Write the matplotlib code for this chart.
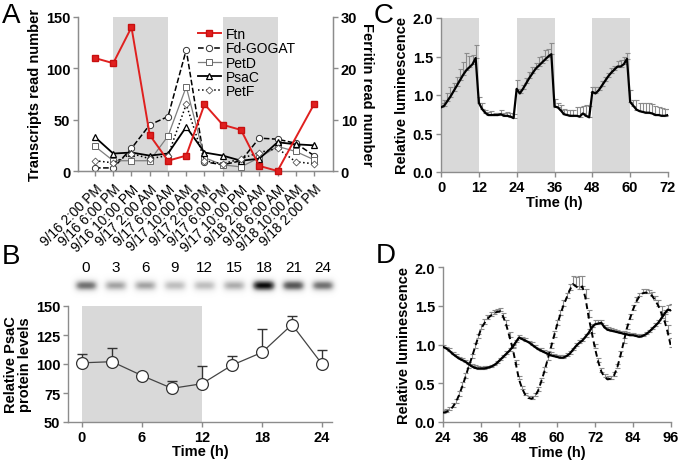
import numpy as np
import matplotlib.pyplot as plt

plt.rcParams['font.family'] = ['Liberation Sans', 'DejaVu Sans']

# ---- panel A: transcript read numbers ----
time_labels = ["9/16 2:00 PM", "9/16 6:00 PM", "9/16 10:00 PM", "9/17 2:00 AM",
               "9/17 6:00 AM", "9/17 10:00 AM", "9/17 2:00 PM", "9/17 6:00 PM",
               "9/17 10:00 PM", "9/18 2:00 AM", "9/18 6:00 AM", "9/18 10:00 AM",
               "9/18 2:00 PM"]
ftn = [22, 21, 28, 7, 2, 3, 13, 9, 8, 1, 0, np.nan, 13]   # right axis (ferritin)
fd_gogat = [3, 3, 22, 45, 53, 118, 9, 6, 10, 32, 31, 27, 15]
petd = [24, 10, 10, 10, 34, 82, 13, 6, 4, 13, 24, 19, 11]
psac = [33, 17, 18, 15, 17, 43, 18, 15, 10, 12, 28, 26, 25]
petf = [10, 8, 17, 12, 15, 65, 10, 7, 12, 18, 22, 9, 7]
dark_A = [(1, 4), (7, 10)]

# ---- panel B: PsaC protein ----
b_time = [0, 3, 6, 9, 12, 15, 18, 21, 24]
b_mean = [101, 102, 90, 79, 83, 99, 110, 134, 100]
b_err = [8, 12, 1, 6, 15, 8, 20, 7, 12]
blot_intensity = [0.62, 0.45, 0.45, 0.36, 0.36, 0.42, 0.95, 0.72, 0.62]

# ---- panel C: luminescence under LD ----
c_time = np.arange(0, 73)
c_mean = [0.84, 0.86, 0.92, 0.98, 1.05, 1.12, 1.19, 1.26, 1.32, 1.36, 1.40, 1.48,
          0.90, 0.82, 0.77, 0.74, 0.74, 0.74, 0.74, 0.75, 0.73, 0.73, 0.72, 0.70,
          1.08, 1.02, 1.08, 1.15, 1.22, 1.28, 1.34, 1.38, 1.42, 1.46, 1.50, 1.53,
          0.85, 0.84, 0.80, 0.75, 0.74, 0.73, 0.73, 0.73, 0.72, 0.76, 0.73, 0.71,
          1.04, 1.02, 1.06, 1.12, 1.18, 1.24, 1.29, 1.33, 1.37, 1.37, 1.40, 1.47,
          0.91, 0.86, 0.81, 0.79, 0.78, 0.77, 0.77, 0.76, 0.74, 0.74, 0.73, 0.73,
          0.74]
c_err = [0.06, 0.07, 0.10, 0.12, 0.10, 0.12, 0.15, 0.17, 0.22, 0.15, 0.12, 0.17,
         0.08, 0.07, 0.04, 0.04, 0.05, 0.03, 0.03, 0.05, 0.04, 0.05, 0.04, 0.05,
         0.12, 0.06, 0.05, 0.07, 0.08, 0.08, 0.08, 0.12, 0.09, 0.12, 0.10, 0.14,
         0.10, 0.05, 0.07, 0.07, 0.07, 0.08, 0.08, 0.12, 0.12, 0.10, 0.14, 0.15,
         0.07, 0.08, 0.04, 0.06, 0.06, 0.05, 0.06, 0.05, 0.07, 0.09, 0.09, 0.08,
         0.16, 0.08, 0.12, 0.10, 0.11, 0.12, 0.12, 0.12, 0.12, 0.11, 0.10, 0.09,
         0.08]
dark_C = [(0, 12), (24, 36), (48, 60)]

# ---- panel D: luminescence free-running ----
d_time = np.arange(24, 97)
d_solid = [0.97, 0.95, 0.92, 0.88, 0.85, 0.82, 0.80, 0.78, 0.75, 0.72, 0.70, 0.69,
           0.69, 0.69, 0.70, 0.71, 0.73, 0.76, 0.80, 0.84, 0.88, 0.92, 0.97, 1.03,
           1.09, 1.07, 1.05, 1.03, 1.00, 0.97, 0.94, 0.92, 0.90, 0.88, 0.86, 0.85,
           0.84, 0.83, 0.83, 0.85, 0.88, 0.93, 0.98, 1.02, 1.05, 1.10, 1.15, 1.22,
           1.26, 1.27, 1.28, 1.22, 1.19, 1.18, 1.17, 1.16, 1.15, 1.14, 1.13, 1.12,
           1.12, 1.11, 1.10, 1.11, 1.13, 1.16, 1.20, 1.24, 1.28, 1.34, 1.40, 1.45,
           1.44]
d_solid_err = [0.02, 0.02, 0.03, 0.02, 0.03, 0.02, 0.03, 0.02, 0.03, 0.03, 0.03, 0.03,
               0.02, 0.03, 0.02, 0.03, 0.02, 0.03, 0.03, 0.02, 0.03, 0.03, 0.03, 0.03,
               0.03, 0.03, 0.03, 0.02, 0.03, 0.03, 0.02, 0.03, 0.03, 0.03, 0.04, 0.03,
               0.03, 0.04, 0.03, 0.04, 0.04, 0.03, 0.04, 0.04, 0.04, 0.04, 0.05, 0.05,
               0.05, 0.04, 0.04, 0.03, 0.03, 0.03, 0.03, 0.03, 0.03, 0.03, 0.03, 0.03,
               0.03, 0.03, 0.03, 0.03, 0.03, 0.03, 0.03, 0.04, 0.04, 0.04, 0.05, 0.06,
               0.08]
d_dash = [0.12, 0.13, 0.15, 0.19, 0.25, 0.34, 0.45, 0.57, 0.70, 0.82, 0.95, 1.08,
          1.20, 1.27, 1.33, 1.37, 1.40, 1.42, 1.43, 1.36, 1.25, 1.10, 0.95, 0.75,
          0.55, 0.43, 0.35, 0.31, 0.30, 0.33, 0.40, 0.52, 0.65, 0.80, 0.95, 1.10,
          1.25, 1.38, 1.50, 1.60, 1.70, 1.78, 1.75, 1.72, 1.75, 1.60, 1.35, 1.15,
          0.95, 0.78, 0.65, 0.58, 0.55, 0.56, 0.60, 0.70, 0.85, 1.02, 1.20, 1.33,
          1.45, 1.55, 1.62, 1.66, 1.67, 1.66, 1.63, 1.57, 1.50, 1.40, 1.30, 1.15,
          0.97]
d_dash_err = [0.03, 0.04, 0.04, 0.05, 0.05, 0.06, 0.06, 0.06, 0.07, 0.06, 0.07, 0.06,
              0.06, 0.06, 0.05, 0.05, 0.05, 0.04, 0.04, 0.05, 0.06, 0.06, 0.06, 0.05,
              0.05, 0.04, 0.03, 0.03, 0.03, 0.04, 0.05, 0.05, 0.06, 0.07, 0.07, 0.07,
              0.07, 0.07, 0.08, 0.07, 0.08, 0.10, 0.12, 0.16, 0.13, 0.12, 0.10, 0.08,
              0.06, 0.05, 0.05, 0.04, 0.04, 0.04, 0.05, 0.05, 0.06, 0.07, 0.07, 0.07,
              0.06, 0.06, 0.05, 0.05, 0.04, 0.04, 0.05, 0.06, 0.07, 0.10, 0.12, 0.10,
              0.12]

SHADE = '#d9d9d9'
SPINE = '#8c8c8c'
TICK_FS = 10.5
LABEL_FS = 10.5


def style(ax, right=False):
    for s in ['top'] + ([] if right else ['right']):
        ax.spines[s].set_visible(False)
    for s in ax.spines.values():
        s.set_color(SPINE)
        s.set_linewidth(1.0)
    ax.tick_params(colors=SPINE, labelcolor='black', length=3.5, width=1.0, pad=2)
    for lab in ax.get_yticklabels():
        lab.set_fontsize(TICK_FS)
        lab.set_fontweight('bold')


def bold_xticks(ax):
    for lab in ax.get_xticklabels():
        lab.set_fontsize(TICK_FS)
        lab.set_fontweight('bold')


fig = plt.figure(figsize=(6.8, 4.64), dpi=100)

# ================= A =================
axA = fig.add_axes([78 / 680, 1 - 172 / 464, 255 / 680, 154 / 464])
x = np.arange(len(time_labels))
for a, b in dark_A:
    axA.axvspan(a, b, color=SHADE, lw=0, zorder=0)
axA.plot(x, fd_gogat, '--', color='black', lw=1.1, marker='o', ms=4.5,
         mfc='white', mec='#333333', mew=0.7, label='Fd-GOGAT', clip_on=False)
axA.plot(x, petd, '-', color='#7f7f7f', lw=0.9, marker='s', ms=4.5,
         mfc='white', mec='#666666', mew=0.7, label='PetD', clip_on=False)
axA.plot(x, psac, '-', color='black', lw=1.3, marker='^', ms=5,
         mfc='white', mec='black', mew=0.9, label='PsaC', clip_on=False)
axA.plot(x, petf, ':', color='black', lw=1.1, marker='D', ms=3.5,
         mfc='white', mec='#555555', mew=0.6, label='PetF', clip_on=False)
axA.set_xlim(-0.93, 13.04)
axA.set_ylim(0, 150)
axA.set_yticks([0, 50, 100, 150])
axA.set_xticks(x)
axA.set_xticklabels(time_labels, rotation=45, ha='right', rotation_mode='anchor',
                    fontsize=9.8)
axA.set_ylabel('Transcripts read number', fontsize=LABEL_FS, fontweight='bold',
               labelpad=3)
style(axA, right=True)
axA.tick_params(axis='x', pad=4)

axA2 = axA.twinx()
ftn_arr = np.array(ftn, dtype=float)
ok = ~np.isnan(ftn_arr)
axA2.plot(x[ok], ftn_arr[ok], '-', color='#e0201f', lw=1.4, marker='s', ms=5,
          mfc='#e0201f', mec='#c81010', label='Ftn', clip_on=False, zorder=5)
axA2.set_ylim(0, 30)
axA2.set_yticks([0, 10, 20, 30])
axA2.set_ylabel('Ferritin read number', fontsize=LABEL_FS, fontweight='bold',
                rotation=-90, labelpad=12)
axA2.spines['top'].set_visible(False)
for s in axA2.spines.values():
    s.set_color(SPINE)
axA2.tick_params(colors=SPINE, labelcolor='black', length=3.5, width=1.0, pad=2)
for lab in axA2.get_yticklabels():
    lab.set_fontsize(TICK_FS)
    lab.set_fontweight('bold')

h1, l1 = axA2.get_legend_handles_labels()
h2, l2 = axA.get_legend_handles_labels()
axA2.legend(h1 + h2, l1 + l2, loc='upper left', bbox_to_anchor=(0.45, 0.97),
            frameon=False, fontsize=10, handlelength=1.6, handletextpad=0.4,
            labelspacing=0.02, borderaxespad=0)

# ================= B =================
axB = fig.add_axes([68 / 680, 1 - 423 / 464, 264 / 680, 116 / 464])
axB.axvspan(0, 12, color=SHADE, lw=0, zorder=0)
axB.errorbar(b_time, b_mean, yerr=[np.zeros(len(b_err)), b_err], fmt='none',
             ecolor='#333333', elinewidth=1, capsize=3.5, capthick=1, zorder=2)
axB.plot(b_time, b_mean, '-', color='#444444', lw=0.9, marker='o', ms=8.5,
         mfc='white', mec='#333333', mew=0.9, zorder=3)
axB.set_xlim(-1.4, 25)
axB.set_ylim(50, 150)
axB.set_xticks([0, 6, 12, 18, 24])
axB.set_yticks([50, 75, 100, 125, 150])
axB.set_xlabel('Time (h)', fontsize=LABEL_FS, fontweight='bold', labelpad=0)
axB.set_ylabel('Relative PsaC\nprotein levels', fontsize=LABEL_FS, fontweight='bold',
               labelpad=3, linespacing=1.0)
style(axB)
bold_xticks(axB)

# western blot strip
axBl = fig.add_axes([70 / 680, 1 - 300 / 464, 270 / 680, 42 / 464])
bx0, bx1 = -1.62, 25.7
gx = np.linspace(bx0, bx1, 540)
gy = np.linspace(0, 1, 84)
GX, GY = np.meshgrid(gx, gy)
img = np.zeros(GX.shape)
for t, v in zip(b_time, blot_intensity):
    img += v * np.exp(-((GX - t) / 1.15) ** 4 - ((GY - 0.32) / 0.13) ** 2)
axBl.imshow(img, extent=[bx0, bx1, 0, 1], origin='lower', cmap='Greys',
            vmin=0, vmax=0.98, aspect='auto', interpolation='bilinear')
for t in b_time:
    axBl.text(t, 0.76, str(t), ha='center', va='center', fontsize=11)
axBl.set_xlim(bx0, bx1)
axBl.set_ylim(0, 1)
axBl.axis('off')

# ================= C =================
axC = fig.add_axes([441 / 680, 1 - 173 / 464, 227 / 680, 154 / 464])
for a, b in dark_C:
    axC.axvspan(a, b, color=SHADE, lw=0, zorder=0)
axC.errorbar(c_time, c_mean, yerr=[np.zeros(len(c_err)), c_err], fmt='none',
             ecolor='#8c8c8c', elinewidth=0.8, capsize=1.8, capthick=0.8, zorder=2)
axC.plot(c_time, c_mean, '-', color='black', lw=1.6, zorder=3)
axC.set_xlim(0, 72)
axC.set_ylim(0, 2.0)
axC.set_xticks([0, 12, 24, 36, 48, 60, 72])
axC.set_yticks([0, 0.5, 1.0, 1.5, 2.0])
axC.set_yticklabels(['0.0', '0.5', '1.0', '1.5', '2.0'])
axC.set_xlabel('Time (h)', fontsize=LABEL_FS, fontweight='bold', labelpad=1)
axC.set_ylabel('Relative luminescence', fontsize=LABEL_FS, fontweight='bold',
               labelpad=3)
style(axC)
bold_xticks(axC)

# ================= D =================
axD = fig.add_axes([443 / 680, 1 - 423 / 464, 228 / 680, 155 / 464])
axD.errorbar(d_time, d_dash, yerr=[np.zeros(len(d_dash_err)), d_dash_err], fmt='none',
             ecolor='#8c8c8c', elinewidth=0.8, capsize=1.8, capthick=0.8, zorder=2)
axD.errorbar(d_time, d_solid, yerr=[np.zeros(len(d_solid_err)), d_solid_err], fmt='none',
             ecolor='#8c8c8c', elinewidth=0.8, capsize=1.8, capthick=0.8, zorder=2)
axD.plot(d_time, d_dash, '--', color='black', lw=1.4, dashes=(3, 2), zorder=3)
axD.plot(d_time, d_solid, '-', color='black', lw=1.6, zorder=3)
axD.set_xlim(24, 96)
axD.set_ylim(0, 2.0)
axD.set_xticks([24, 36, 48, 60, 72, 84, 96])
axD.set_yticks([0, 0.5, 1.0, 1.5, 2.0])
axD.set_yticklabels(['0.0', '0.5', '1.0', '1.5', '2.0'])
axD.set_xlabel('Time (h)', fontsize=LABEL_FS, fontweight='bold', labelpad=1)
axD.set_ylabel('Relative luminescence', fontsize=LABEL_FS, fontweight='bold',
               labelpad=3)
style(axD)
bold_xticks(axD)

# panel letters
for lbl, px, py in [('A', 2, 3), ('B', 2, 244), ('C', 374, 3), ('D', 376, 243)]:
    fig.text(px / 680, 1 - py / 464, lbl, fontsize=20, va='top', ha='left')

fig.savefig('out.png', dpi=100)
